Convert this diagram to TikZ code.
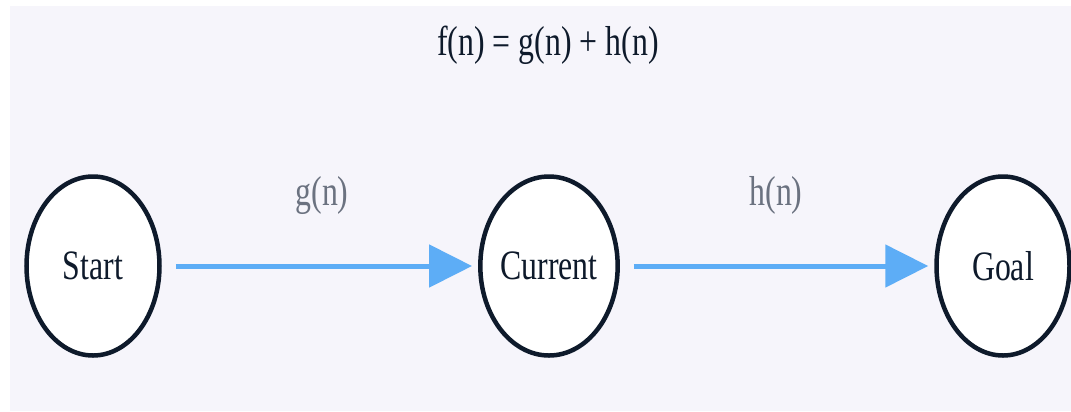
\documentclass[tikz,border=0pt]{standalone}
\usepackage{fontspec}
\setmainfont{Liberation Serif}
\newfontfamily\diagfont[FakeStretch=0.76]{Liberation Serif}
\usetikzlibrary{shapes.geometric,arrows.meta}

\definecolor{bgpanel}{HTML}{F6F5FB}
\definecolor{nodeedge}{HTML}{0E1A2B}
\definecolor{flowblue}{HTML}{5DADF6}
\definecolor{costgray}{HTML}{6B7280}

\begin{document}
\begin{tikzpicture}[
  x=1bp, y=-1bp,
  state/.style={ellipse, draw=nodeedge, line width=4.5bp, fill=white,
    minimum width=133bp, minimum height=179bp, inner sep=0pt,
    font=\diagfont\fontsize{42}{46}\selectfont, text=nodeedge},
  cost/.style={font=\diagfont\fontsize{42}{46}\selectfont, text=costgray},
  title/.style={font=\diagfont\fontsize{42}{46}\selectfont, text=nodeedge},
  flow/.style={draw=flowblue, line width=5bp,
    -{Triangle[length=43bp, width=42bp]},
    shorten <=14bp, shorten >=6bp},
]
  \useasboundingbox (0,0) rectangle (1071,411);
  \fill[bgpanel] (10,6) rectangle (1071,411);

  \node[title] (formula) at (548,45) {f(n) = g(n) + h(n)};

  \node[state] (start)   at (93,266)   {Start};
  \node[state] (current) at (549,266)  {Current};
  \node[state] (goal)    at (1003,266) {Goal};

  \node[cost] (gcost) at (322,195) {g(n)};
  \node[cost] (hcost) at (776,195) {h(n)};

  \draw[flow] (start)   -- (current);
  \draw[flow] (current) -- (goal);
\end{tikzpicture}
\end{document}
